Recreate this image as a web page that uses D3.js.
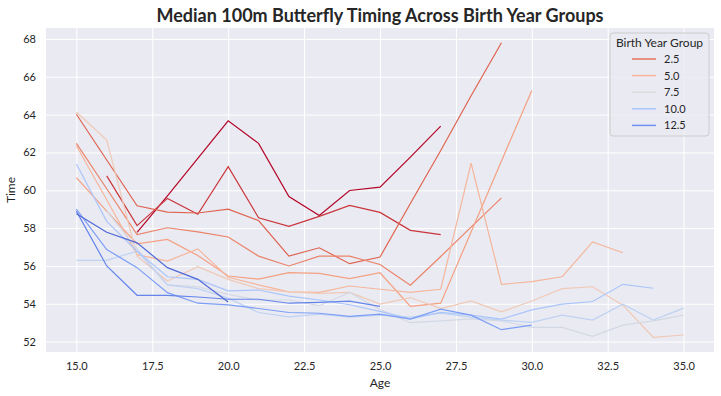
<!DOCTYPE html>
<html>
<head>
<meta charset="utf-8">
<script src="https://cdn.jsdelivr.net/npm/d3@7"></script>
<style>
  body { margin: 0; background: #fff; }
  text { font-family: Lato, "DejaVu Sans", sans-serif; fill: #262626; }
</style>
</head>
<body>
<svg id="chart" width="721" height="396"></svg>
<script>
// birth year group of each line, first age of the line, and median times by age
const groupIds = [0, 1, 2, 3, 4, 5, 6, 8, 9, 10, 12, 13, 14];
const firstAge = [17, 16, 15, 15, 15, 15, 15, 16, 15, 15, 15, 15, 15];
const medianTimes = [
  [57.78, 59.71, 61.69, 63.67, 62.48, 59.67, 58.67, 59.99, 60.17, 61.75, 63.39],
  [60.76, 58.13, 59.57, 58.73, 61.25, 58.55, 58.09, 58.62, 59.2, 58.83, 57.88, 57.66],
  [64.02, 61.6, 59.18, 58.85, 58.8, 59.0, 58.4, 56.52, 56.96, 56.12, 56.47, 59.3, 62.1, 65.0, 67.8],
  [62.48, 60.08, 57.66, 58.02, 57.8, 57.53, 56.52, 56.0, 56.52, 56.52, 56.08, 54.98, 56.5, 58.05, 59.6],
  [60.67, 58.9, 57.17, 57.4, 56.55, 55.47, 55.3, 55.65, 55.61, 55.33, 55.64, 53.86, 54.03, 57.8, 61.55, 65.28],
  [62.35, 59.5, 56.6, 56.26, 56.9, 55.4, 55.0, 54.63, 54.6, 54.94, 54.77, 54.6, 54.77, 61.43, 55.03, 55.17, 55.43, 57.27, 56.7],
  [64.14, 62.65, 56.52, 55.2, 55.96, 55.29, 54.8, 54.63, 54.55, 54.6, 53.98, 54.33, 53.75, 54.15, 53.57, 54.15, 54.8, 54.9, 53.93, 52.23, 52.35],
  [58.9, 56.9, 55.0, 54.9, 54.5, 54.2, 54.2, 53.9, 54.6, 53.7, 53.0, 53.1, 53.2, 53.1, 52.75, 52.75, 52.28, 52.87, 53.1, 53.4],
  [56.29, 56.3, 56.78, 55.0, 54.8, 54.3, 53.54, 53.31, 53.45, 53.3, 53.4, 53.3, 53.5, 53.3, 53.14, 53.02, 53.4, 53.14, 53.98, 53.14, 53.77],
  [61.39, 58.36, 56.78, 55.43, 55.29, 54.68, 54.73, 54.41, 54.2, 53.95, 53.6, 53.2, 53.55, 53.4, 53.19, 53.68, 53.98, 54.12, 55.03, 54.82],
  [59.0, 56.87, 55.91, 54.59, 54.03, 53.94, 53.75, 53.54, 53.5, 53.33, 53.45, 53.19, 53.72, 53.4, 52.63, 52.87],
  [58.9, 56.0, 54.45, 54.45, 54.36, 54.24, 54.24, 54.03, 54.07, 54.14, 53.86],
  [58.76, 57.78, 57.22, 55.91, 55.29, 54.1]
];
const legendGroups = [2.5, 5.0, 7.5, 10.0, 12.5];
const xTicks = [15, 17.5, 20, 22.5, 25, 27.5, 30, 32.5, 35];
const yTicks = [52, 54, 56, 58, 60, 62, 64, 66, 68];

// coolwarm colormap stops (reversed below so low groups are red)
const coolwarm = ["#3b4cc0", "#6282ea", "#8db0fe", "#b8d0f9", "#dddcdc", "#f5c4ac", "#f49a7b", "#de604d", "#b40426"];

const svg = d3.select("#chart");
const margin = { left: 46, right: 7, top: 28, bottom: 44 };
const width = +svg.attr("width"), height = +svg.attr("height");

// build line records
const series = groupIds.map((g, i) => ({
  group: g,
  points: medianTimes[i].map((t, j) => ({ age: firstAge[i] + j, time: t }))
}));
const allPts = series.flatMap((s) => s.points);

const ageExt = d3.extent(allPts, (d) => d.age);
const timeExt = d3.extent(allPts, (d) => d.time);
const padX = (ageExt[1] - ageExt[0]) * 0.05;
const padY = (timeExt[1] - timeExt[0]) * 0.05;

const x = d3.scaleLinear()
  .domain([ageExt[0] - padX, ageExt[1] + padX])
  .range([margin.left, width - margin.right]);
const y = d3.scaleLinear()
  .domain([timeExt[0] - padY, timeExt[1] + padY])
  .range([height - margin.bottom, margin.top]);

const cw = d3.scaleLinear()
  .domain(d3.range(coolwarm.length).map((i) => i / (coolwarm.length - 1)))
  .range(coolwarm)
  .interpolate(d3.interpolateRgb);
const color = (g) => cw(1 - g / 15);

// background
svg.append("rect")
  .attr("x", margin.left).attr("y", margin.top)
  .attr("width", width - margin.left - margin.right)
  .attr("height", height - margin.top - margin.bottom)
  .attr("fill", "#eaeaf2");

// grid + tick labels
const xAxis = svg.append("g")
  .attr("transform", `translate(0,${height - margin.bottom})`)
  .call(d3.axisBottom(x).tickValues(xTicks).tickFormat(d3.format(".1f"))
    .tickSize(-(height - margin.top - margin.bottom)).tickPadding(10));
const yAxis = svg.append("g")
  .attr("transform", `translate(${margin.left},0)`)
  .call(d3.axisLeft(y).tickValues(yTicks).tickFormat(d3.format("d"))
    .tickSize(-(width - margin.left - margin.right)).tickPadding(10));

[xAxis, yAxis].forEach((a) => {
  a.select(".domain").remove();
  a.selectAll(".tick line").attr("stroke", "#fff").attr("stroke-width", 1);
  a.selectAll(".tick text").attr("font-size", 11).style("font-family", "Lato").attr("fill", "#333");
});

// lines
const line = d3.line().x((d) => x(d.age)).y((d) => y(d.time));
svg.append("g")
  .selectAll("path")
  .data(series)
  .join("path")
  .attr("d", (d) => line(d.points))
  .attr("fill", "none")
  .attr("stroke", (d) => color(d.group))
  .attr("stroke-width", 1.2);

// title and axis labels
svg.append("text")
  .attr("x", (margin.left + width - margin.right) / 2).attr("y", 22)
  .attr("text-anchor", "middle")
  .attr("font-size", 18).attr("font-weight", "bold")
  .text("Median 100m Butterfly Timing Across Birth Year Groups");
svg.append("text")
  .attr("x", (margin.left + width - margin.right) / 2).attr("y", 387)
  .attr("text-anchor", "middle").attr("font-size", 12)
  .text("Age");
svg.append("text")
  .attr("transform", `translate(15,${(margin.top + height - margin.bottom) / 2}) rotate(-90)`)
  .attr("text-anchor", "middle").attr("font-size", 12)
  .text("Time");

// legend
const lg = svg.append("g").attr("transform", "translate(610,33)");
lg.append("rect")
  .attr("width", 99).attr("height", 103).attr("rx", 3)
  .attr("fill", "#eaeaf2").attr("fill-opacity", 0.8)
  .attr("stroke", "#cccccc");
lg.append("text")
  .attr("x", 49.5).attr("y", 14)
  .attr("text-anchor", "middle").attr("font-size", 12)
  .text("Birth Year Group");
legendGroups.forEach((g, i) => {
  const yy = 26 + i * 16.6;
  lg.append("line")
    .attr("x1", 22).attr("x2", 46).attr("y1", yy).attr("y2", yy)
    .attr("stroke", color(g)).attr("stroke-width", 1.5);
  lg.append("text")
    .attr("x", 54).attr("y", yy + 4)
    .attr("font-size", 11)
    .text(d3.format(".1f")(g));
});
</script>
</body>
</html>
